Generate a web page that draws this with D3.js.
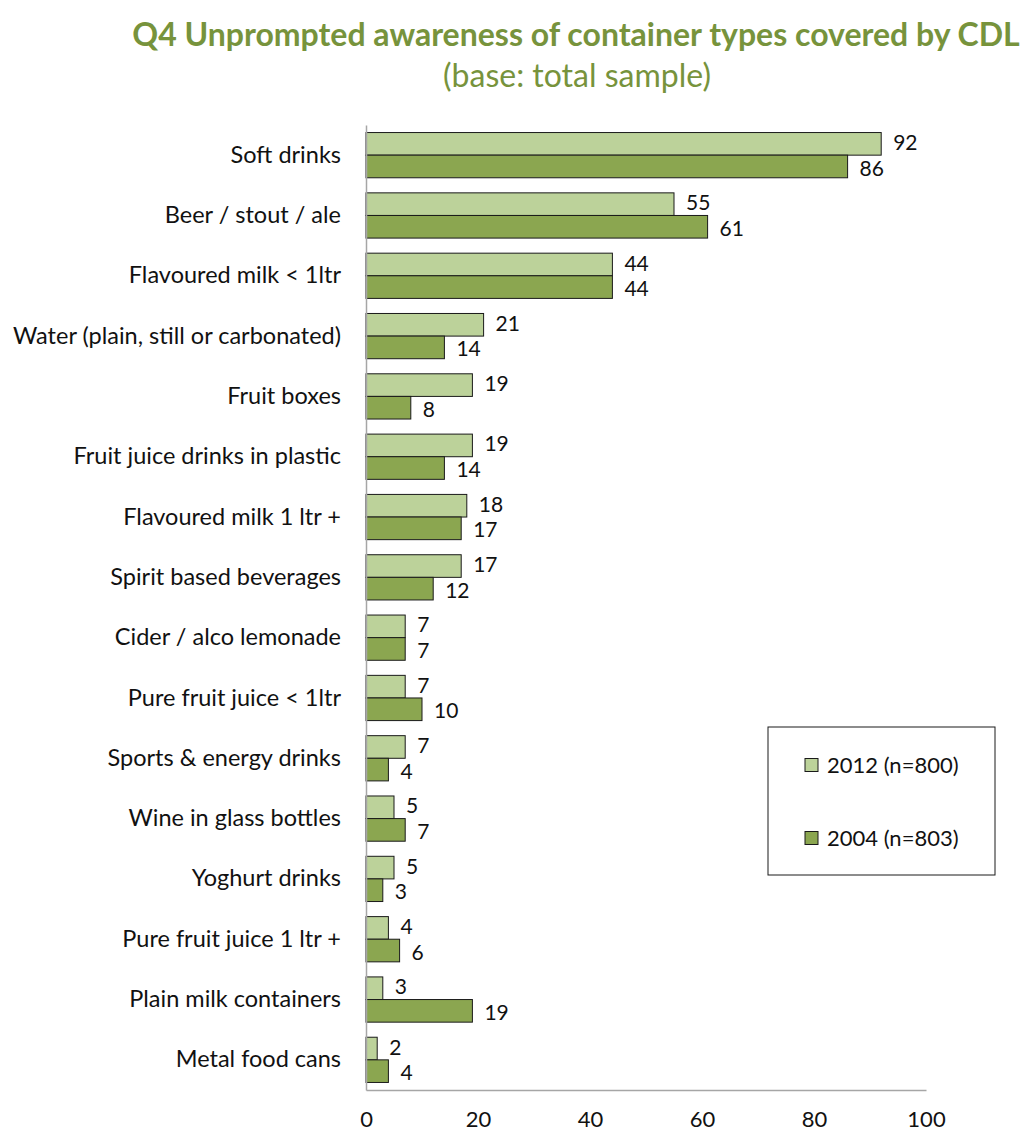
<!DOCTYPE html>
<html>
<head>
<meta charset="utf-8">
<script src="https://cdn.jsdelivr.net/npm/d3@7"></script>
<style>
  html, body { margin: 0; padding: 0; background: #fff; }
  svg { display: block; }
  text { font-family: Lato, "Open Sans", sans-serif; }
</style>
</head>
<body>
<svg id="chart" width="1031" height="1132"></svg>
<script>
// Container categories, top to bottom
const categories = [
  "Soft drinks",
  "Beer / stout / ale",
  "Flavoured milk < 1ltr",
  "Water (plain, still or carbonated)",
  "Fruit boxes",
  "Fruit juice drinks in plastic",
  "Flavoured milk 1 ltr +",
  "Spirit based beverages",
  "Cider / alco lemonade",
  "Pure fruit juice < 1ltr",
  "Sports & energy drinks",
  "Wine in glass bottles",
  "Yoghurt drinks",
  "Pure fruit juice 1 ltr +",
  "Plain milk containers",
  "Metal food cans"
];
// Awareness (%) by survey wave
const values2012 = [92, 55, 44, 21, 19, 19, 18, 17, 7, 7, 7, 5, 5, 4, 3, 2];
const values2004 = [86, 61, 44, 14, 8, 14, 17, 12, 7, 10, 4, 7, 3, 6, 19, 4];
const seriesNames = ["2012 (n=800)", "2004 (n=803)"];
const xTicks = [0, 20, 40, 60, 80, 100];

const colors = ["#bcd29a", "#8ba650"];
const titleColor = "#77933c";
const fontStack = "Lato, 'Open Sans', sans-serif";

const svg = d3.select("#chart");
const margin = { left: 366, right: 105, top: 125, bottom: 42 };
const W = 1031, H = 1132;

const x = d3.scaleLinear().domain([0, 100]).range([margin.left, W - margin.right]);
const y = d3.scaleBand().domain(categories).range([margin.top, H - margin.bottom]).paddingInner(0.25).paddingOuter(0.125);
const ySub = d3.scaleBand().domain([0, 1]).range([0, y.bandwidth()]);

// Title
svg.append("text")
  .attr("x", 576).attr("y", 46)
  .attr("text-anchor", "middle")
  .attr("font-size", 32).attr("font-weight", "bold")
  .attr("fill", titleColor)
  .text("Q4 Unprompted awareness of container types covered by CDL");
svg.append("text")
  .attr("x", 577).attr("y", 87)
  .attr("text-anchor", "middle")
  .attr("font-size", 32)
  .attr("fill", titleColor)
  .text("(base: total sample)");

const rows = categories.map((c, i) => ({ cat: c, vals: [values2012[i], values2004[i]] }));

const g = svg.append("g").selectAll("g").data(rows).join("g")
  .attr("transform", d => `translate(0,${y(d.cat)})`);

const bars = g.selectAll("g.s").data(d => d.vals.map((v, k) => ({ v, k }))).join("g").attr("class", "s");

bars.append("rect")
  .attr("x", x(0))
  .attr("y", d => ySub(d.k))
  .attr("width", d => x(d.v) - x(0))
  .attr("height", ySub.bandwidth())
  .attr("fill", d => colors[d.k])
  .attr("stroke", "#1a1a1a")
  .attr("stroke-width", 1);

// Value labels, nudged slightly apart so paired labels don't collide
bars.append("text")
  .attr("x", d => x(d.v) + 12)
  .attr("y", d => ySub(d.k) + ySub.bandwidth() / 2 + (d.k === 0 ? -1.5 : 1.5))
  .attr("dy", "0.36em")
  .attr("font-size", 21)
  .attr("fill", "#111")
  .text(d => d.v);

// Category axis
const yAxis = svg.append("g").attr("transform", `translate(${x(0)},0)`)
  .call(d3.axisLeft(y).tickSize(0).tickPadding(25));
yAxis.select(".domain").attr("stroke", "#a6a6a6").attr("stroke-width", 1.5);
yAxis.selectAll("text").attr("font-size", 23.5).attr("fill", "#111")
  .style("font-family", fontStack);

// Value axis
const xAxis = svg.append("g").attr("transform", `translate(0,${H - margin.bottom})`)
  .call(d3.axisBottom(x).tickValues(xTicks).tickSize(0).tickPadding(21));
xAxis.select(".domain").attr("stroke", "#a6a6a6").attr("stroke-width", 1.5);
xAxis.selectAll("text").attr("font-size", 22).attr("fill", "#111")
  .style("font-family", fontStack);

// Legend
const legend = svg.append("g").attr("transform", "translate(768,727)");
legend.append("rect").attr("width", 227).attr("height", 148)
  .attr("fill", "#fff").attr("stroke", "#1a1a1a").attr("stroke-width", 1);
seriesNames.forEach((name, k) => {
  const ly = 38 + k * 73;
  legend.append("rect").attr("x", 37).attr("y", ly - 6.5).attr("width", 13).attr("height", 13)
    .attr("fill", colors[k]).attr("stroke", "#1a1a1a").attr("stroke-width", 1);
  legend.append("text").attr("x", 59).attr("y", ly).attr("dy", "0.36em")
    .attr("font-size", 22).attr("fill", "#111").text(name);
});
</script>
</body>
</html>
